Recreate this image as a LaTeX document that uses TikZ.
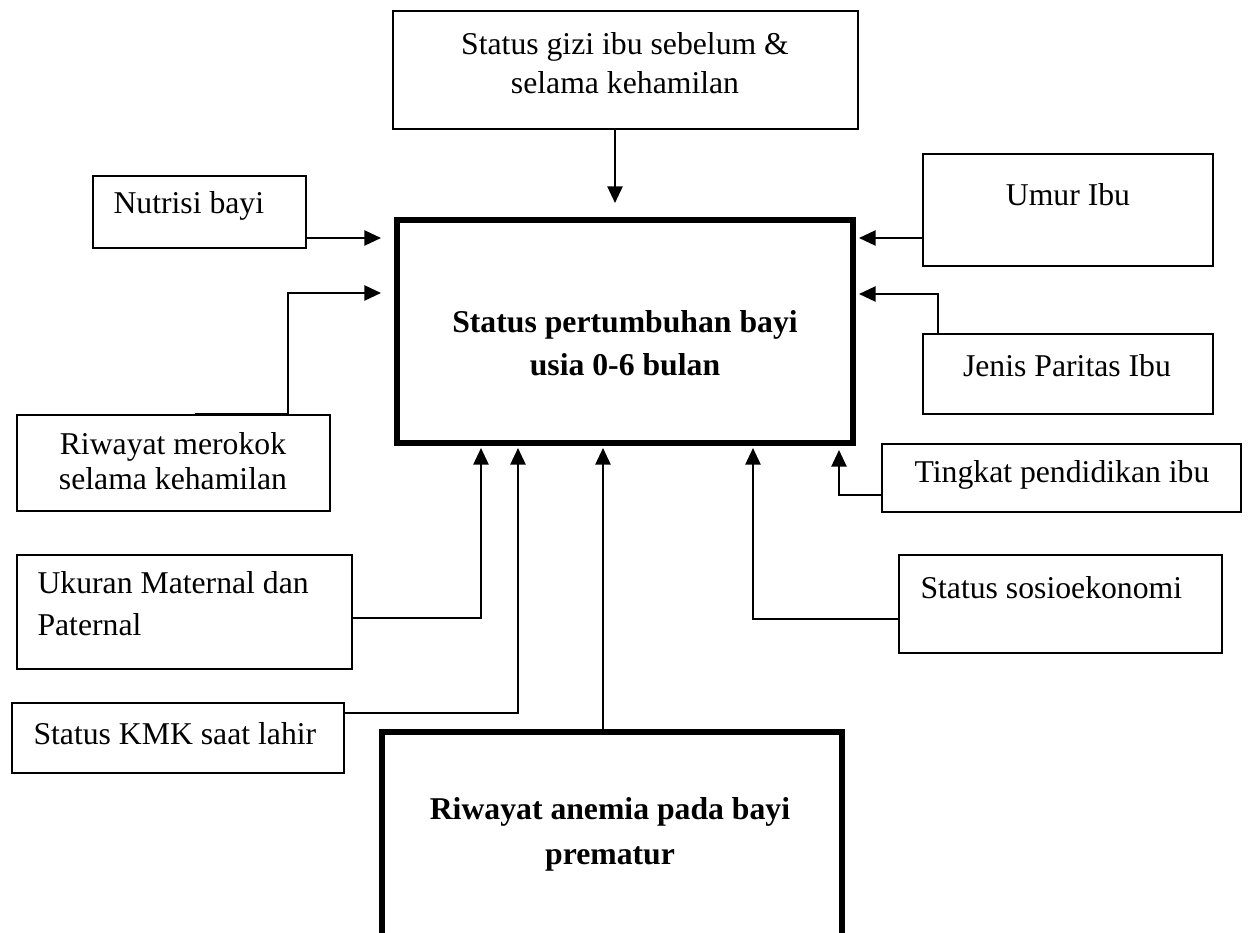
\documentclass[tikz,border=0pt]{standalone}
\usepackage{fontspec}
\setmainfont{Liberation Serif}
\usetikzlibrary{arrows.meta,positioning,fit}
\tikzset{
  factbox/.style={draw=black,line width=0.6pt,inner sep=0pt},
  corebox/.style={draw=black,line width=1.9pt,inner sep=0pt},
  lbl/.style={align=center,inner sep=0pt,font=\fontsize{12}{15}\selectfont},
  lblleft/.style={lbl,align=left,anchor=west},
  lblbold/.style={lbl,font=\fontsize{12}{16.5}\selectfont\bfseries},
  arr/.style={-{Triangle[length=2.2mm,width=2mm]},line width=0.8pt,black},
}

\begin{document}
\begin{tikzpicture}[x=0.133mm,y=-0.133mm]
    \useasboundingbox (0,0) rectangle (1250,933);
    \clip (0,0) rectangle (1250,933);
    % boxes
    \node[factbox,fit={(393,11)(858,129)}] (gizi) {};
    \node[corebox,fit={(397,220)(853,443)}] (main) {};
    \node[factbox,fit={(93,176)(306,248)}] (nutrisi) {};
    \node[factbox,fit={(17,415)(330,511)}] (merokok) {};
    \node[factbox,fit={(17,555)(352,669)}] (ukuran) {};
    \node[factbox,fit={(12,703)(344,773)}] (kmk) {};
    \node[factbox,fit={(923,154)(1213,266)}] (umur) {};
    \node[factbox,fit={(923,334)(1213,414)}] (jenis) {};
    \node[factbox,fit={(882,444)(1241,512)}] (tingkat) {};
    \node[factbox,fit={(899,555)(1222,653)}] (sosio) {};
    \node[corebox,fit={(382,732)(842,970)}] (anemia) {};
    % texts
    \node[lbl] (gizi-t) at (625,63) {Status gizi ibu sebelum \&\\selama kehamilan};
    \node[lblbold] (main-t) at (625,343) {Status pertumbuhan bayi\\usia 0-6 bulan};
    \node[lblleft] (nutrisi-t) at (113,206) {Nutrisi bayi};
    \node[lbl,font=\fontsize{12}{13.2}\selectfont] (merokok-t) at (173,461) {Riwayat merokok\\selama kehamilan};
    \node[lblleft,font=\fontsize{12}{15.9}\selectfont] (ukuran-t) at (37,604) {Ukuran Maternal dan\\Paternal};
    \node[lblleft] (kmk-t) at (33,734) {Status KMK saat lahir};
    \node[lbl] (umur-t) at (1068,195) {Umur Ibu};
    \node[lbl] (jenis-t) at (1067,366) {Jenis Paritas Ibu};
    \node[lbl] (tingkat-t) at (1062,475) {Tingkat pendidikan ibu};
    \node[lblleft] (sosio-t) at (920,588) {Status sosioekonomi};
    \node[lblbold,font=\fontsize{12}{17}\selectfont\bfseries] (anemia-t) at (610,834) {Riwayat anemia pada bayi\\prematur};
    % arrow tips on the core box
    \coordinate (tipG) at (615,203);
    \coordinate (tipN) at (381,238);
    \coordinate (tipR) at (381,293);
    \coordinate (tipU) at (859,238);
    \coordinate (tipJ) at (859,294);
    \coordinate (tipM) at (481,448);
    \coordinate (tipK) at (518,448);
    \coordinate (tipA) at (603,448);
    \coordinate (tipS) at (753,448);
    \coordinate (tipT) at (839,450);
    % connectors
    \draw[arr] (gizi.south -| tipG) -- (tipG);
    \draw[arr] (nutrisi.east |- tipN) -- (tipN);
    \draw[arr] ([xshift=2.9mm]merokok.north) -- ++(93,0) |- (tipR);
    \draw[arr] (umur.west |- tipU) -- (tipU);
    \draw[arr] ([xshift=2.1mm]jenis.north west) |- (tipJ);
    \draw[arr] ([yshift=-2.3mm]tingkat.west) -| (tipT);
    \draw[arr] ([yshift=-2mm]sosio.west) -| (tipS);
    \draw[arr] ([yshift=-0.8mm]ukuran.east) -| (tipM);
    \draw[arr] ([yshift=3.3mm]kmk.east) -| (tipK);
    \draw[arr] (anemia.north -| tipA) -- (tipA);
\end{tikzpicture}
\end{document}
